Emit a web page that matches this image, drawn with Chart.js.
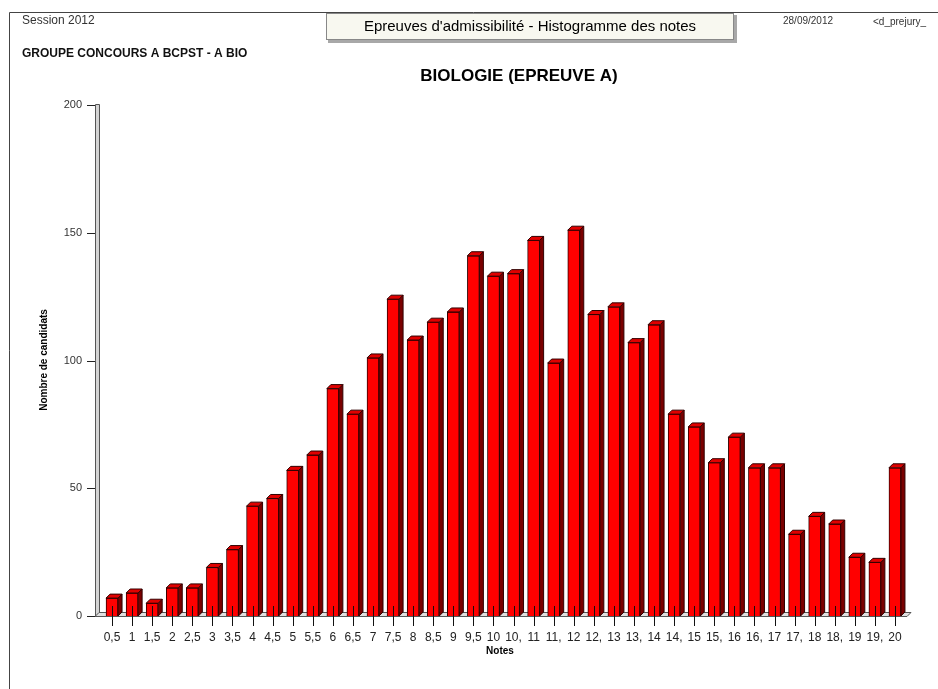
<!DOCTYPE html>
<html>
<head>
<meta charset="utf-8">
<script src="https://cdn.jsdelivr.net/npm/chart.js@4/dist/chart.umd.min.js"></script>
<style>
  html, body { margin: 0; padding: 0; background: #fff; }
  #wrap { width: 938px; height: 689px; position: relative; }
</style>
</head>
<body>
<div id="wrap"><canvas id="chart" width="938" height="689"></canvas></div>
<script>
// notes (x categories), as printed under the bars
const notes = ['0,5', '1', '1,5', '2', '2,5', '3', '3,5', '4', '4,5', '5',
    '5,5', '6', '6,5', '7', '7,5', '8', '8,5', '9', '9,5', '10',
    '10,', '11', '11,', '12', '12,', '13', '13,', '14', '14,', '15',
    '15,', '16', '16,', '17', '17,', '18', '18,', '19', '19,', '20'];

// nombre de candidats per note
const candidats = [7, 9, 5, 11, 11, 19, 26, 43, 46, 57,
    63, 89, 79, 101, 124, 108, 115, 119, 141, 133,
    134, 147, 99, 151, 118, 121, 107, 114, 79, 74,
    60, 70, 58, 58, 32, 39, 36, 23, 21, 58];

const yTicks = [0, 50, 100, 150, 200];

const FONT = '"Liberation Sans", Arial, sans-serif';
const DEPTH = 4;

// header, frame, 3d wall/floor and the bar faces
const decor = {
    id: 'decor',
    beforeDraw(chart) {
        const ctx = chart.ctx;
        ctx.save();
        // page frame
        ctx.strokeStyle = '#444';
        ctx.lineWidth = 1;
        ctx.beginPath();
        ctx.moveTo(9.5, 689);
        ctx.lineTo(9.5, 12.5);
        ctx.lineTo(938, 12.5);
        ctx.stroke();

        // title box
        ctx.fillStyle = '#a8a8a8';
        ctx.fillRect(328, 15, 409, 28);
        ctx.fillStyle = '#f8f8f0';
        ctx.fillRect(326, 13, 408, 27);
        ctx.strokeStyle = '#888';
        ctx.strokeRect(326.5, 13.5, 407, 26);

        ctx.textBaseline = 'middle';
        ctx.fillStyle = '#000';
        ctx.font = '15px ' + FONT;
        ctx.textAlign = 'center';
        ctx.fillText("Epreuves d'admissibilité - Histogramme des notes", 530, 27);

        ctx.textAlign = 'left';
        ctx.fillStyle = '#333';
        ctx.font = '12px ' + FONT;
        ctx.fillText('Session 2012', 22, 21);
        ctx.fillStyle = '#111';
        ctx.font = 'bold 12px ' + FONT;
        ctx.fillText('GROUPE CONCOURS A BCPST - A BIO', 22, 54);

        ctx.fillStyle = '#333';
        ctx.font = '10px ' + FONT;
        ctx.fillText('28/09/2012', 783, 21);
        ctx.fillText('<d_prejury_', 873, 22);

        ctx.fillStyle = '#000';
        ctx.font = 'bold 17px ' + FONT;
        ctx.textAlign = 'center';
        ctx.fillText('BIOLOGIE (EPREUVE A)', 519, 76);

        // axis titles
        ctx.font = 'bold 10px ' + FONT;
        ctx.fillText('Notes', 500, 651);
        ctx.translate(44, 360);
        ctx.rotate(-Math.PI / 2);
        ctx.fillText('Nombre de candidats', 0, 0);
        ctx.restore();
    },
    beforeDatasetsDraw(chart) {
        const ctx = chart.ctx;
        const y = chart.scales.y;
        const area = chart.chartArea;
        const base = y.getPixelForValue(0);
        const top = y.getPixelForValue(200);
        const wallX = area.left - 7;
        ctx.save();
        ctx.lineWidth = 1;
        ctx.strokeStyle = '#555';
        // wall
        ctx.fillStyle = '#d4d4d4';
        ctx.fillRect(wallX, top, 4, base - top + 1);
        ctx.beginPath();
        ctx.moveTo(wallX + 0.5, base + 1);
        ctx.lineTo(wallX + 0.5, top - 0.5);
        ctx.lineTo(wallX + 4.5, top - 0.5);
        ctx.lineTo(wallX + 4.5, base - 3);
        ctx.stroke();
        // floor
        ctx.fillStyle = '#e0e0e0';
        ctx.beginPath();
        ctx.moveTo(wallX, base + 0.5);
        ctx.lineTo(area.right + 2, base + 0.5);
        ctx.lineTo(area.right + 6, base - 3.5);
        ctx.lineTo(wallX + 4, base - 3.5);
        ctx.closePath();
        ctx.fill();
        ctx.stroke();
        // y tick marks
        ctx.strokeStyle = '#222';
        yTicks.forEach(v => {
            const py = Math.round(y.getPixelForValue(v)) + 0.5;
            ctx.beginPath();
            ctx.moveTo(wallX - 8, py);
            ctx.lineTo(wallX, py);
            ctx.stroke();
        });
        ctx.restore();
    },
    afterDatasetsDraw(chart) {
        const ctx = chart.ctx;
        const meta = chart.getDatasetMeta(0);
        const x = chart.scales.x;
        const base = chart.scales.y.getPixelForValue(0);
        ctx.save();
        ctx.lineWidth = 1;
        ctx.strokeStyle = '#300000';
        meta.data.forEach(bar => {
            const l = bar.x - bar.width / 2;
            const r = bar.x + bar.width / 2;
            const t = bar.y;
            // side face
            ctx.fillStyle = '#7a0000';
            ctx.beginPath();
            ctx.moveTo(r, t);
            ctx.lineTo(r + DEPTH, t - DEPTH);
            ctx.lineTo(r + DEPTH, base - DEPTH);
            ctx.lineTo(r, base);
            ctx.closePath();
            ctx.fill();
            ctx.stroke();
            // top face
            ctx.fillStyle = '#e00000';
            ctx.beginPath();
            ctx.moveTo(l, t);
            ctx.lineTo(l + DEPTH, t - DEPTH);
            ctx.lineTo(r + DEPTH, t - DEPTH);
            ctx.lineTo(r, t);
            ctx.closePath();
            ctx.fill();
            ctx.stroke();
        });
        // x tick marks through the bar feet
        ctx.strokeStyle = '#111';
        notes.forEach((n, i) => {
            const px = Math.round(x.getPixelForValue(i)) + 0.5;
            ctx.beginPath();
            ctx.moveTo(px, base - 10);
            ctx.lineTo(px, base + 10);
            ctx.stroke();
        });
        ctx.restore();
    }
};

new Chart(document.getElementById('chart'), {
    type: 'bar',
    data: {
        labels: notes,
        datasets: [{
            data: candidats,
            backgroundColor: '#ff0000',
            borderColor: '#300000',
            borderWidth: 1,
            barThickness: 12
        }]
    },
    options: {
        responsive: false,
        animation: false,
        layout: { padding: { left: 0, right: 33, top: 105, bottom: 0 } },
        plugins: { legend: { display: false }, tooltip: { enabled: false } },
        scales: {
            x: {
                afterFit: (s) => { s.height = 73; },
                grid: { display: false, drawTicks: false },
                border: { display: false },
                ticks: {
                    autoSkip: false, maxRotation: 0, padding: 14,
                    color: '#222', font: { family: FONT, size: 12 }
                }
            },
            y: {
                min: 0, max: 200,
                afterFit: (s) => { s.width = 102; },
                afterBuildTicks: (s) => { s.ticks = yTicks.map(v => ({ value: v })); },
                grid: { display: false, drawTicks: false },
                border: { display: false },
                ticks: {
                    padding: 20,
                    color: '#333', font: { family: FONT, size: 11 }
                }
            }
        }
    },
    plugins: [decor]
});
</script>
</body>
</html>
